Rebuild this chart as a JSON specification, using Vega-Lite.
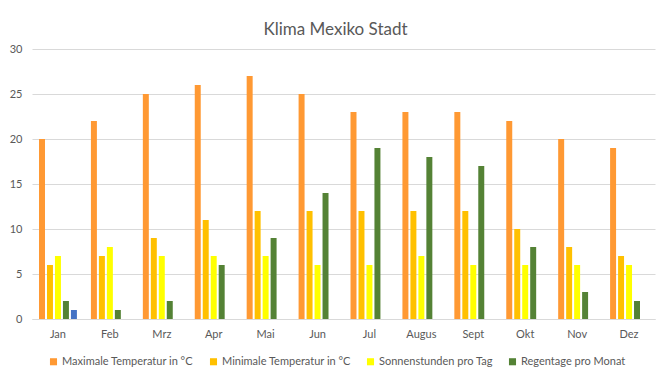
{
  "$schema": "https://vega.github.io/schema/vega-lite/v6.json",
  "width": 623,
  "height": 270,
  "autosize": {"type": "none"},
  "padding": {"left": 32, "top": 49, "right": 15, "bottom": 62},
  "background": "white",
  "title": {"text": "Klima Mexiko Stadt", "font": "Lato", "fontSize": 17, "fontWeight": "normal", "color": "#595959", "anchor": "middle", "dx": -8, "offset": 4},
  "config": {"view": {"stroke": null}, "font": "Lato"},
  "data": {"values": [
    {"Monat": "Jan", "Reihe": "Maximale Temperatur in °C", "Wert": 20},
    {"Monat": "Feb", "Reihe": "Maximale Temperatur in °C", "Wert": 22},
    {"Monat": "Mrz", "Reihe": "Maximale Temperatur in °C", "Wert": 25},
    {"Monat": "Apr", "Reihe": "Maximale Temperatur in °C", "Wert": 26},
    {"Monat": "Mai", "Reihe": "Maximale Temperatur in °C", "Wert": 27},
    {"Monat": "Jun", "Reihe": "Maximale Temperatur in °C", "Wert": 25},
    {"Monat": "Jul", "Reihe": "Maximale Temperatur in °C", "Wert": 23},
    {"Monat": "Augus", "Reihe": "Maximale Temperatur in °C", "Wert": 23},
    {"Monat": "Sept", "Reihe": "Maximale Temperatur in °C", "Wert": 23},
    {"Monat": "Okt", "Reihe": "Maximale Temperatur in °C", "Wert": 22},
    {"Monat": "Nov", "Reihe": "Maximale Temperatur in °C", "Wert": 20},
    {"Monat": "Dez", "Reihe": "Maximale Temperatur in °C", "Wert": 19},
    {"Monat": "Jan", "Reihe": "Minimale Temperatur in °C", "Wert": 6},
    {"Monat": "Feb", "Reihe": "Minimale Temperatur in °C", "Wert": 7},
    {"Monat": "Mrz", "Reihe": "Minimale Temperatur in °C", "Wert": 9},
    {"Monat": "Apr", "Reihe": "Minimale Temperatur in °C", "Wert": 11},
    {"Monat": "Mai", "Reihe": "Minimale Temperatur in °C", "Wert": 12},
    {"Monat": "Jun", "Reihe": "Minimale Temperatur in °C", "Wert": 12},
    {"Monat": "Jul", "Reihe": "Minimale Temperatur in °C", "Wert": 12},
    {"Monat": "Augus", "Reihe": "Minimale Temperatur in °C", "Wert": 12},
    {"Monat": "Sept", "Reihe": "Minimale Temperatur in °C", "Wert": 12},
    {"Monat": "Okt", "Reihe": "Minimale Temperatur in °C", "Wert": 10},
    {"Monat": "Nov", "Reihe": "Minimale Temperatur in °C", "Wert": 8},
    {"Monat": "Dez", "Reihe": "Minimale Temperatur in °C", "Wert": 7},
    {"Monat": "Jan", "Reihe": "Sonnenstunden pro Tag", "Wert": 7},
    {"Monat": "Feb", "Reihe": "Sonnenstunden pro Tag", "Wert": 8},
    {"Monat": "Mrz", "Reihe": "Sonnenstunden pro Tag", "Wert": 7},
    {"Monat": "Apr", "Reihe": "Sonnenstunden pro Tag", "Wert": 7},
    {"Monat": "Mai", "Reihe": "Sonnenstunden pro Tag", "Wert": 7},
    {"Monat": "Jun", "Reihe": "Sonnenstunden pro Tag", "Wert": 6},
    {"Monat": "Jul", "Reihe": "Sonnenstunden pro Tag", "Wert": 6},
    {"Monat": "Augus", "Reihe": "Sonnenstunden pro Tag", "Wert": 7},
    {"Monat": "Sept", "Reihe": "Sonnenstunden pro Tag", "Wert": 6},
    {"Monat": "Okt", "Reihe": "Sonnenstunden pro Tag", "Wert": 6},
    {"Monat": "Nov", "Reihe": "Sonnenstunden pro Tag", "Wert": 6},
    {"Monat": "Dez", "Reihe": "Sonnenstunden pro Tag", "Wert": 6},
    {"Monat": "Jan", "Reihe": "Regentage pro Monat", "Wert": 2},
    {"Monat": "Feb", "Reihe": "Regentage pro Monat", "Wert": 1},
    {"Monat": "Mrz", "Reihe": "Regentage pro Monat", "Wert": 2},
    {"Monat": "Apr", "Reihe": "Regentage pro Monat", "Wert": 6},
    {"Monat": "Mai", "Reihe": "Regentage pro Monat", "Wert": 9},
    {"Monat": "Jun", "Reihe": "Regentage pro Monat", "Wert": 14},
    {"Monat": "Jul", "Reihe": "Regentage pro Monat", "Wert": 19},
    {"Monat": "Augus", "Reihe": "Regentage pro Monat", "Wert": 18},
    {"Monat": "Sept", "Reihe": "Regentage pro Monat", "Wert": 17},
    {"Monat": "Okt", "Reihe": "Regentage pro Monat", "Wert": 8},
    {"Monat": "Nov", "Reihe": "Regentage pro Monat", "Wert": 3},
    {"Monat": "Dez", "Reihe": "Regentage pro Monat", "Wert": 2},
    {"Monat": "Jan", "Reihe": "Reihe5", "Wert": 1}
  ]},
  "mark": {"type": "bar"},
  "encoding": {
    "x": {
      "field": "Monat", "type": "nominal",
      "sort": ["Jan", "Feb", "Mrz", "Apr", "Mai", "Jun", "Jul", "Augus", "Sept", "Okt", "Nov", "Dez"],
      "scale": {"paddingInner": 0.27, "paddingOuter": 0.135},
      "axis": {"title": null, "labelAngle": 0, "ticks": false, "domain": true, "domainColor": "#D9D9D9", "labelColor": "#595959", "labelFontSize": 11, "labelPadding": 9, "labelFont": "Lato"}
    },
    "xOffset": {
      "field": "Reihe", "type": "nominal",
      "sort": ["Maximale Temperatur in °C", "Minimale Temperatur in °C", "Sonnenstunden pro Tag", "Regentage pro Monat", "Reihe5"],
      "scale": {"domain": ["Maximale Temperatur in °C", "Minimale Temperatur in °C", "Sonnenstunden pro Tag", "Regentage pro Monat", "Reihe5"], "paddingInner": 0.25, "paddingOuter": 0}
    },
    "y": {
      "field": "Wert", "type": "quantitative",
      "scale": {"domain": [0, 30], "nice": false},
      "axis": {"title": null, "values": [0, 5, 10, 15, 20, 25, 30], "ticks": false, "domain": false, "gridColor": "#D9D9D9", "labelColor": "#595959", "labelFontSize": 11, "labelPadding": 10, "labelFont": "Lato"}
    },
    "color": {
      "field": "Reihe", "type": "nominal",
      "scale": {"domain": ["Maximale Temperatur in °C", "Minimale Temperatur in °C", "Sonnenstunden pro Tag", "Regentage pro Monat", "Reihe5"], "range": ["#FF9933", "#FFC000", "#FFFF00", "#548235", "#4472C4"]},
      "legend": {"title": null, "orient": "none", "legendX": 16, "legendY": 307, "direction": "horizontal", "values": ["Maximale Temperatur in °C", "Minimale Temperatur in °C", "Sonnenstunden pro Tag", "Regentage pro Monat"], "symbolType": "square", "symbolSize": 50, "symbolStrokeWidth": 0, "labelColor": "#595959", "labelFontSize": 11, "labelFont": "Lato", "columnPadding": 14, "labelOffset": 3}
    }
  }
}
